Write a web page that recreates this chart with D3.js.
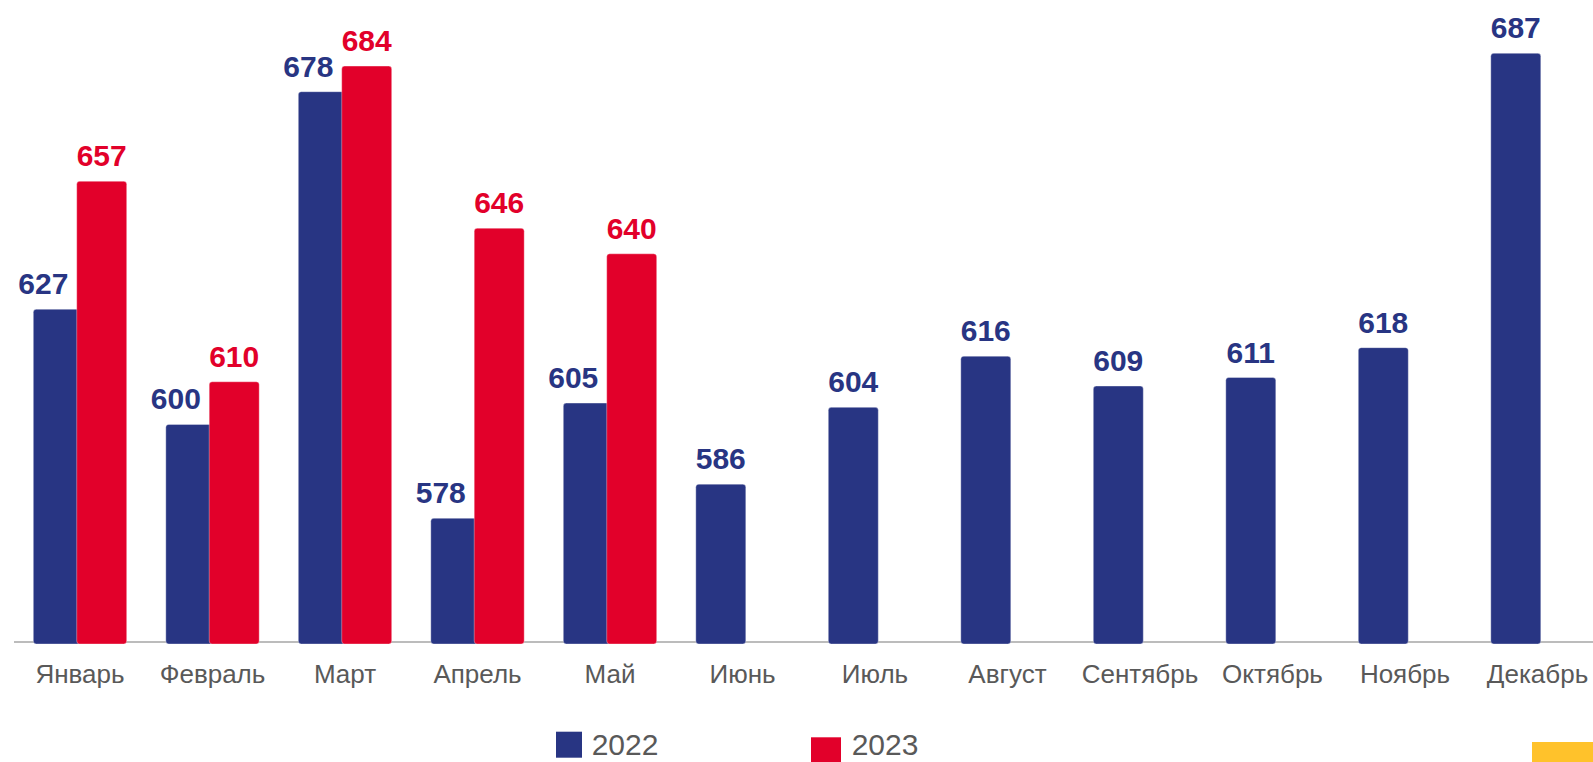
<!DOCTYPE html>
<html>
<head>
<meta charset="utf-8">
<script src="https://cdn.jsdelivr.net/npm/d3@7"></script>
<style>
  html, body { margin: 0; padding: 0; background: #fff; overflow: hidden; }
  svg { display: block; font-family: Arial, "Liberation Sans", sans-serif; }
</style>
</head>
<body>
<div id="chart"></div>
<script>
// months on the x axis
const months = ["Январь", "Февраль", "Март", "Апрель", "Май", "Июнь",
  "Июль", "Август", "Сентябрь", "Октябрь", "Ноябрь", "Декабрь"];
const seriesNames = ["2022", "2023"];
// values per month, null = no data yet
const values2022 = [627, 600, 678, 578, 605, 586, 604, 616, 609, 611, 618, 687];
const values2023 = [657, 610, 684, 646, 640, null, null, null, null, null, null, null];
const colors = { "2022": "#283583", "2023": "#E2002A" };

const width = 1593, height = 762;
const baseY = 642;
const barW = 50;

const svg = d3.select("#chart").append("svg")
  .attr("width", width)
  .attr("height", height);

const x = d3.scaleBand()
  .domain(months)
  .range([33.3, 1584.2])
  .paddingInner(0.295)
  .paddingOuter(0);

const xs = d3.scalePoint()
  .domain(seriesNames)
  .range([0, x.bandwidth() - barW]);

const y = d3.scaleLinear()
  .domain([549, 687])
  .range([baseY, 53.3]);

const rows = [];
seriesNames.forEach((s, si) => {
  const vals = si === 0 ? values2022 : values2023;
  months.forEach((m, i) => {
    if (vals[i] != null) rows.push({ series: s, month: m, value: vals[i], paired: values2023[i] != null });
  });
});

// baseline
svg.append("line")
  .attr("x1", 14).attr("x2", width)
  .attr("y1", baseY).attr("y2", baseY)
  .attr("stroke", "#A6A6A6")
  .attr("stroke-width", 1.5);

// bars (2023 drawn after 2022 so it overlaps)
svg.append("g").selectAll("rect")
  .data(rows)
  .join("rect")
  .attr("x", d => x(d.month) + xs(d.series))
  .attr("y", d => y(d.value))
  .attr("width", barW)
  .attr("height", d => baseY + 2 - y(d.value))
  .attr("rx", 3)
  .attr("fill", d => colors[d.series])
  .attr("stroke", "rgba(255,255,255,0.35)")
  .attr("stroke-width", 1);

// value labels
svg.append("g").selectAll("text")
  .data(rows)
  .join("text")
  .attr("x", d => x(d.month) + xs(d.series) + barW / 2 - (d.series === "2022" && d.paired ? 15 : 0))
  .attr("y", d => y(d.value) - 15)
  .attr("text-anchor", "middle")
  .attr("font-size", 30)
  .attr("font-weight", "bold")
  .attr("fill", d => colors[d.series])
  .text(d => d.value);

// x axis labels
const xAxis = d3.axisBottom(x).tickSize(0).tickPadding(0);
const gx = svg.append("g")
  .attr("transform", `translate(0,${baseY})`)
  .call(xAxis);
gx.select(".domain").remove();
gx.selectAll("text")
  .attr("dy", null)
  .attr("y", 41)
  .attr("font-size", 26)
  .attr("font-family", "Arial, 'Liberation Sans', sans-serif")
  .attr("fill", "#595959");

// legend
const legendItems = [
  { name: seriesNames[0], sx: 556, sy: 731.7, size: 26, tx: 591.7, ty: 755 },
  { name: seriesNames[1], sx: 811, sy: 737.3, size: 30, tx: 851.7, ty: 755 }
];
const lg = svg.append("g");
lg.selectAll("rect")
  .data(legendItems)
  .join("rect")
  .attr("x", d => d.sx).attr("y", d => d.sy)
  .attr("width", d => d.size).attr("height", d => d.size)
  .attr("fill", d => colors[d.name]);
lg.selectAll("text")
  .data(legendItems)
  .join("text")
  .attr("x", d => d.tx).attr("y", d => d.ty)
  .attr("font-size", 30)
  .attr("fill", "#595959")
  .text(d => d.name);

// yellow corner block
svg.append("rect")
  .attr("x", 1532).attr("y", 742)
  .attr("width", width - 1532).attr("height", 20)
  .attr("fill", "#FFC22B");
</script>
</body>
</html>
